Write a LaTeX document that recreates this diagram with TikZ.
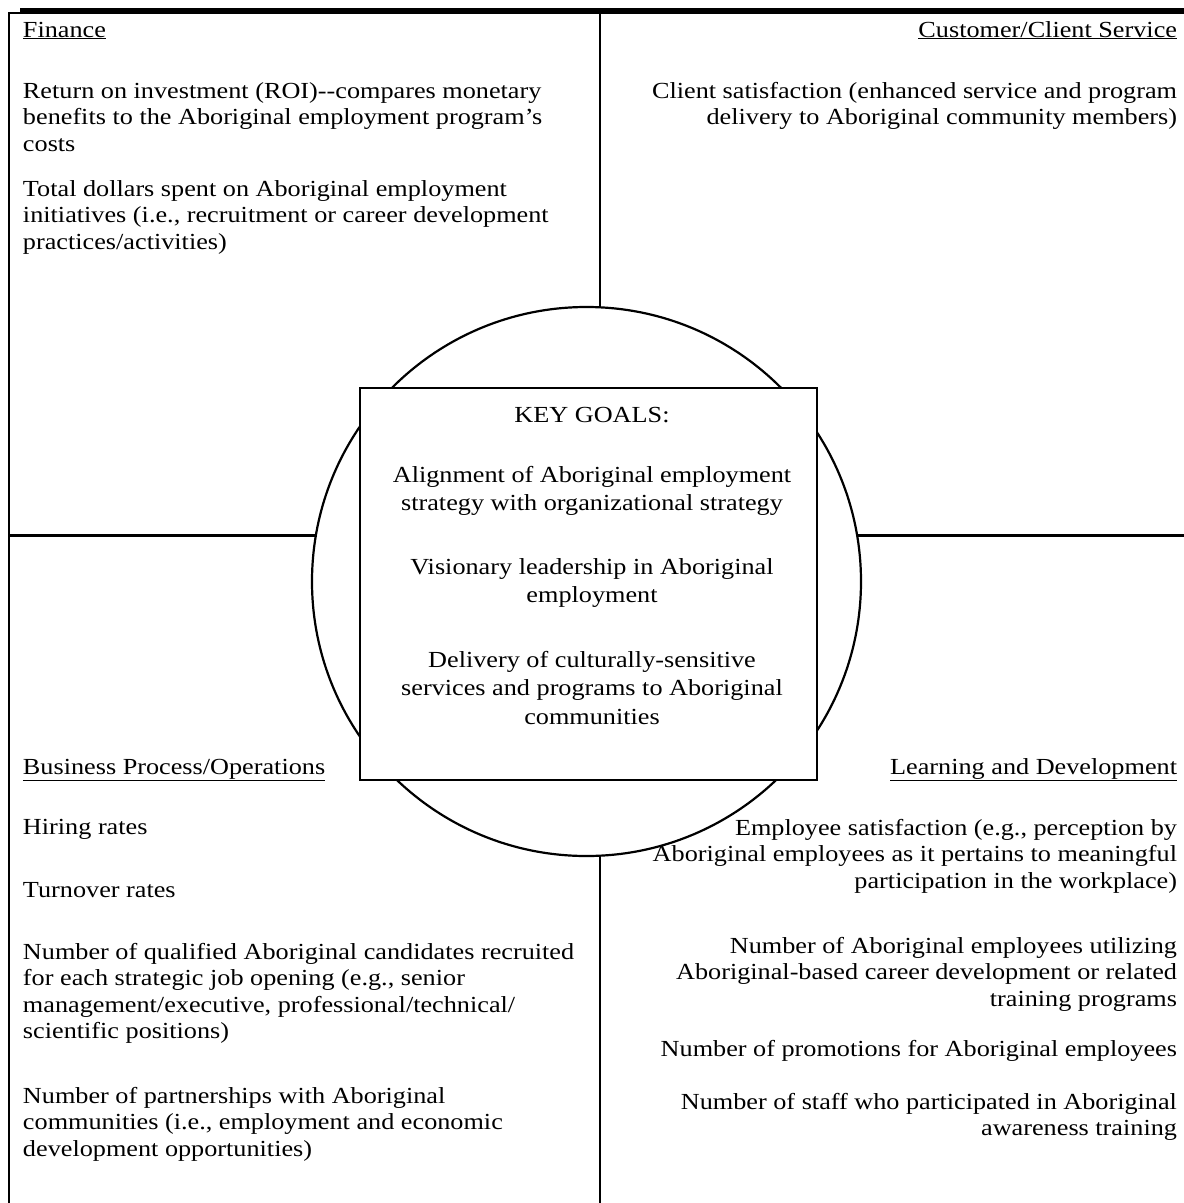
\documentclass[tikz,border=0pt]{standalone}
\usepackage{fontspec}
\setmainfont{Liberation Serif}[FakeStretch=1.14]
\newcommand\fstrut{\rule{0pt}{18pt}}
\begin{document}
\begin{tikzpicture}[x=1pt,y=-1pt,
  ln/.style={line width=2.2pt},
  txt/.style={inner sep=0pt, outer sep=0pt, font=\fontsize{23}{26.6}\selectfont},
  lft/.style={txt, anchor=north west, align=left},
  rgt/.style={txt, anchor=north east, align=right},
  ctr/.style={txt, anchor=north, align=center, font=\fontsize{23}{28.8}\selectfont}]
\useasboundingbox (0,0) rectangle (1184,1203);
\fill[white] (0,0) rectangle (1184,1203);
% frame coordinates
\coordinate (TL) at (9,13);
\coordinate (BL) at (9,1203);
\coordinate (TR) at (1184,13);
\coordinate (TM) at (600,13);
\coordinate (BM) at (600,1203);
\coordinate (LM) at (9,535.5);
\coordinate (RM) at (1184,535.5);
\coordinate (barA) at (20,8);
\coordinate (barB) at (1184,14);
% circle
\node[draw, circle, ln, minimum size=549pt, inner sep=0pt, outer sep=0pt] (C) at (586.5,581.5) {};
% frame and dividing lines
\draw[ln] (BL) -- (TL) -- (TR);
\fill (barA) rectangle (barB);
\draw[ln] (TM) -- (TM |- C.87.2);
\draw[ln] (BM |- C.-87.2) -- (BM);
\draw[ln] (LM) -- (LM -| C.170.3);
\draw[ln] (RM -| C.9.6) -- (RM);
% central box
\node[draw, fill=white, ln, minimum width=457pt, minimum height=392pt, anchor=north west, inner sep=0pt] (B) at (359,387) {};
% Finance
\node[lft] (fin) at (23,19) {\fstrut\underline{Finance}};
\node[lft] (roi) at (23,80) {\fstrut Return on investment (ROI)-{}-compares monetary\\benefits to the Aboriginal employment program’s\\costs};
\node[lft] (tot) at (23,178) {\fstrut Total dollars spent on Aboriginal employment\\initiatives (i.e.,  recruitment or career development\\practices/activities)};
% Customer
\node[rgt] (cus) at (1177,19) {\fstrut\underline{Customer/Client Service}};
\node[rgt] (cli) at (1177,80) {\fstrut Client satisfaction (enhanced service and program\\delivery to Aboriginal community members)};
% Key goals
\node[ctr] (key) at (592,404) {\fstrut KEY GOALS:};
\node[ctr] (ali) at (592,464) {\fstrut Alignment of Aboriginal employment\\strategy with organizational strategy};
\node[ctr] (vis) at (592,556) {\fstrut Visionary leadership in Aboriginal\\employment};
\node[ctr] (del) at (592,649) {\fstrut Delivery of culturally-sensitive\\services and programs to Aboriginal\\communities};
% Business process
\node[lft] (bus) at (23,756) {\fstrut\underline{Business Process/Operations}};
\node[lft] (hir) at (23,816) {\fstrut Hiring rates};
\node[lft] (tur) at (23,879) {\fstrut Turnover rates};
\node[lft] (qua) at (23,941) {\fstrut Number of qualified Aboriginal candidates recruited\\for each strategic job opening (e.g., senior\\management/executive, professional/technical/\\scientific positions)};
\node[lft] (par) at (23,1085) {\fstrut Number of partnerships with Aboriginal\\communities (i.e., employment and economic\\development opportunities)};
% Learning
\node[rgt] (lea) at (1177,756) {\fstrut\underline{Learning and Development}};
\node[rgt] (emp) at (1177,817) {\fstrut Employee satisfaction (e.g., perception by\\Aboriginal employees as it pertains to meaningful\\participation in the workplace)};
\node[rgt] (uti) at (1177,935) {\fstrut Number of Aboriginal employees utilizing\\Aboriginal-based career development or related\\training programs};
\node[rgt] (pro) at (1177,1038) {\fstrut Number of promotions for Aboriginal employees};
\node[rgt] (sta) at (1177,1091) {\fstrut Number of staff who participated in Aboriginal\\awareness training};
\end{tikzpicture}
\end{document}
